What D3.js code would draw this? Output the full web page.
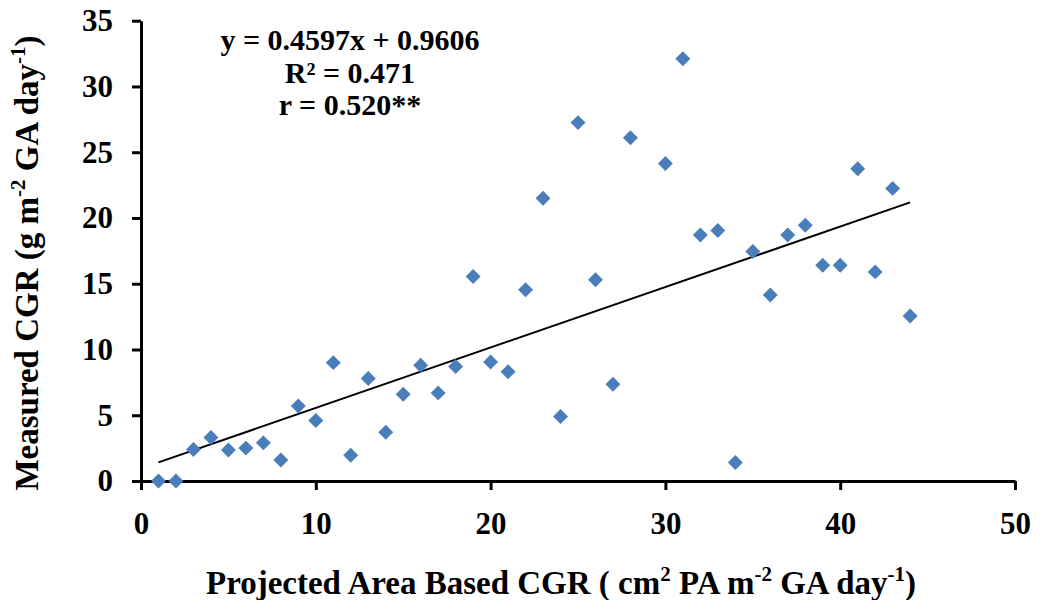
<!DOCTYPE html>
<html>
<head>
<meta charset="utf-8">
<script src="https://cdn.jsdelivr.net/npm/d3@7"></script>
<style>
  html, body { margin: 0; padding: 0; background: #fff; }
  svg { display: block; }
</style>
</head>
<body>
<svg id="chart" width="1040" height="600"></svg>
<script>
// Projected-area CGR (x) against measured CGR (y)
const projectedCGR = [1, 2, 3, 4, 5, 6, 7, 8, 9, 10, 11, 12, 13, 14, 15, 16, 17, 18, 19, 20, 21, 22,
                      23, 24, 25, 26, 27, 28, 30, 31, 32, 33, 34, 35, 36, 37, 38, 39, 40, 41, 42, 43, 44];
const measuredCGR  = [0, 0, 2.4, 3.3, 2.35, 2.5, 2.9, 1.6, 5.7, 4.6, 9.0, 1.95, 7.8, 3.7, 6.6, 8.8, 6.7, 8.7, 15.55, 9.05, 8.3, 14.55,
                      21.5, 4.9, 27.25, 15.3, 7.35, 26.1, 24.15, 32.1, 18.7, 19.05, 1.4, 17.45, 14.15, 18.7, 19.45, 16.4, 16.4, 23.75, 15.9, 22.25, 12.55];

const xTicks = [0, 10, 20, 30, 40, 50];
const yTicks = [0, 5, 10, 15, 20, 25, 30, 35];

// Linear fit reported on the chart
const slope = 0.4597;
const intercept = 0.9606;
const fitLines = ["y = 0.4597x + 0.9606", "R² = 0.471", "r = 0.520**"];

const FONT = '"Liberation Serif", "Times New Roman", Tinos, serif';

const svg = d3.select("#chart");
const plot = { left: 141, right: 1015, top: 20.7, bottom: 481 };

const x = d3.scaleLinear().domain([0, 50]).range([plot.left, plot.right]);
const y = d3.scaleLinear().domain([0, 35]).range([plot.bottom, plot.top]);

// Axes
const yAxis = svg.append("g")
  .attr("transform", `translate(${plot.left},0)`)
  .call(d3.axisLeft(y).tickValues(yTicks).tickSize(9).tickSizeOuter(0).tickPadding(19));
const xAxis = svg.append("g")
  .attr("transform", `translate(0,${plot.bottom})`)
  .call(d3.axisBottom(x).tickValues(xTicks).tickSize(9).tickSizeOuter(0).tickPadding(22));

[xAxis, yAxis].forEach(g => {
  g.attr("font-family", FONT).attr("font-size", 31).attr("font-weight", "bold");
  g.select(".domain").attr("stroke", "#000").attr("stroke-width", 3);
  g.selectAll(".tick line").attr("stroke", "#000").attr("stroke-width", 3);
  g.selectAll(".tick text").attr("fill", "#000");
});

// Trend line over the data range
const xExt = d3.extent(projectedCGR);
svg.append("line")
  .attr("x1", x(xExt[0])).attr("y1", y(slope * xExt[0] + intercept))
  .attr("x2", x(xExt[1])).attr("y2", y(slope * xExt[1] + intercept))
  .attr("stroke", "#000").attr("stroke-width", 2);

// Diamond markers
const diamond = d3.symbol().type(d3.symbolSquare).size(112);
svg.append("g").selectAll("path")
  .data(projectedCGR.map((v, i) => [v, measuredCGR[i]]))
  .join("path")
  .attr("d", diamond)
  .attr("transform", d => `translate(${x(d[0])},${y(d[1])}) rotate(45)`)
  .attr("fill", "#4A7EBB");

// Regression annotation
const note = svg.append("g")
  .attr("text-anchor", "middle")
  .attr("font-family", FONT).attr("font-size", 30).attr("font-weight", "bold");
fitLines.forEach((t, i) => {
  note.append("text").attr("x", 350).attr("y", 50 + i * 32.5).text(t);
});

// Axis titles with superscripts
function titled(sel, parts) {
  let raised = false;
  parts.forEach(p => {
    const span = sel.append("tspan");
    if (p.sup) {
      span.attr("dy", -13).attr("font-size", 21).text(p.sup);
      raised = true;
    } else {
      if (raised) { span.attr("dy", 13); raised = false; }
      span.text(p.t);
    }
  });
}

const xTitle = svg.append("text")
  .attr("x", 561).attr("y", 594)
  .attr("text-anchor", "middle")
  .attr("font-family", FONT).attr("font-size", 33).attr("font-weight", "bold");
titled(xTitle, [
  { t: "Projected Area Based CGR ( cm" }, { sup: "2" },
  { t: " PA m" }, { sup: "-2" },
  { t: " GA day" }, { sup: "-1" },
  { t: ")" }
]);

const yTitle = svg.append("text")
  .attr("transform", "translate(38,263) rotate(-90)")
  .attr("text-anchor", "middle")
  .attr("font-family", FONT).attr("font-size", 33).attr("font-weight", "bold");
titled(yTitle, [
  { t: "Measured CGR (g m" }, { sup: "-2" },
  { t: " GA day" }, { sup: "-1" },
  { t: ")" }
]);
</script>
</body>
</html>
